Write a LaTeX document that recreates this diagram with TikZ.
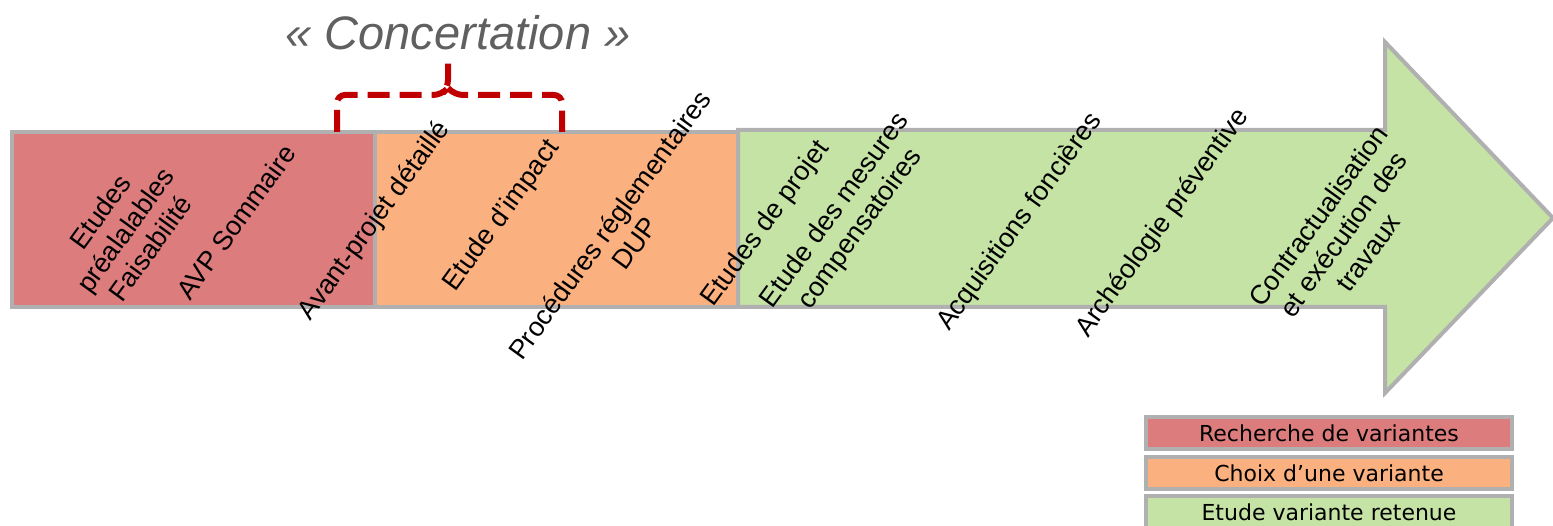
\documentclass[tikz,border=0pt]{standalone}
\usepackage{fontspec}
\setmainfont{Liberation Sans}
\newfontfamily\legendfont{DejaVu Sans}
\definecolor{recherche}{RGB}{220,124,124}
\definecolor{choix}{RGB}{251,176,127}
\definecolor{retenue}{RGB}{197,227,165}
\definecolor{cadre}{RGB}{176,176,176}
\definecolor{concred}{RGB}{192,0,0}
\definecolor{concgray}{RGB}{96,96,96}
\tikzset{
  phase/.style={draw=cadre, line width=4pt, line join=miter},
  lbl/.style={rotate=54, align=center, inner sep=0pt, font=\fontsize{27}{31}\selectfont},
  legende/.style={draw=cadre, line width=3.5pt, minimum width=366pt, minimum height=32pt, inner sep=0pt, font=\legendfont\fontsize{22}{26}\selectfont},
  accolade/.style={concred, line width=6pt, dash pattern=on 22pt off 10pt, rounded corners=8pt}
}
\begin{document}
\begin{tikzpicture}[x=1pt,y=-1pt]
\useasboundingbox (0,0) rectangle (1553,526);
% phases
\coordinate (R1) at (12,132);
\coordinate (R2) at (375,307);
\coordinate (O2) at (738,307);
\coordinate (G1) at (738,130);
\coordinate (G2) at (1385,130);
\coordinate (Gtop) at (1385,42);
\coordinate (Gtip) at (1553,218);
\coordinate (Gbot) at (1385,393);
\coordinate (G3) at (1385,307);
\filldraw[phase, fill=recherche] (R1) rectangle (R2);
\filldraw[phase, fill=choix] (375,132) rectangle (O2);
\filldraw[phase, fill=retenue] (G1) -- (G2) -- (Gtop) -- (Gtip) -- (Gbot) -- (G3) -- (O2) -- cycle;
% etapes
\node[lbl] (prealable) at (125,230) {Etudes\\préalalables\\Faisabilité};
\node[lbl] (avp) at (236,222) {AVP Sommaire};
\node[lbl] (apd) at (375,221) {Avant-projet détaillé};
\node[lbl] (impact) at (502,216) {Etude d’impact};
\node[lbl] (dup) at (622,234) {Procédures réglementaires\\DUP};
\node[lbl] (projet) at (766,224) {Etudes de projet};
\node[lbl] (mesures) at (848,220) {Etude des mesures\\compensatoires};
\node[lbl] (foncier) at (1020,222) {Acquisitions foncières};
\node[lbl] (archeo) at (1163,223) {Archéologie préventive};
\node[lbl] (travaux) at (1343,234) {Contractualisation\\et exécution des\\travaux};
% concertation
\node[text=concgray, font=\fontsize{47}{50}\selectfont\itshape] (concert) at (458,33) {« Concertation »};
\coordinate (Bg) at (337,132);
\coordinate (Bd) at (562,132);
\coordinate (Bh) at (448,56);
\draw[accolade] (Bg) -- (337,95) -- (441,95) -- (448,88) -- (Bh);
\draw[accolade] (448,88) -- (455,95) -- (562,95) -- (Bd);
% legende
\node[legende, fill=recherche] (leg1) at (1329,433) {Recherche de variantes};
\node[legende, fill=choix] (leg2) at (1329,473) {Choix d’une variante};
\node[legende, fill=retenue] (leg3) at (1329,512) {Etude variante retenue};
\end{tikzpicture}
\end{document}
